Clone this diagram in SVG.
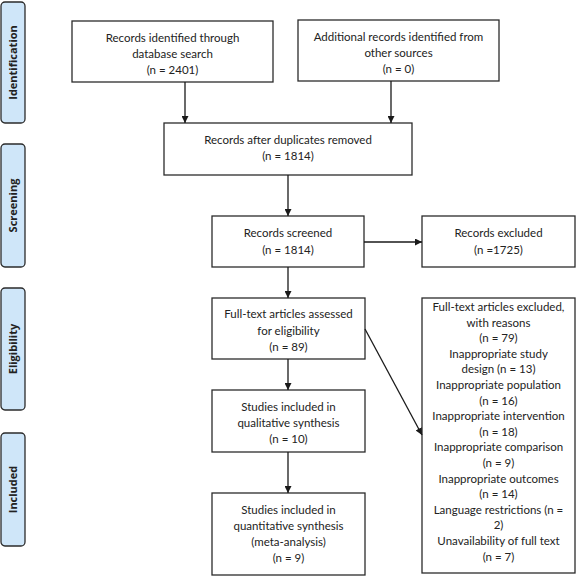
<svg xmlns="http://www.w3.org/2000/svg" width="576" height="576" viewBox="0 0 576 576">
<style>
  .box { fill: #ffffff; stroke: #2b2b2b; stroke-width: 1.3; }
  .lab { fill: #cfe6f9; stroke: #2b2b2b; stroke-width: 1.3; }
  .t { font-family: Lato, "Liberation Sans", sans-serif; font-size: 11.5px; fill: #222; text-anchor: middle; }
  .lt { font-family: "Open Sans", "Liberation Sans", sans-serif; font-size: 11px; font-weight: bold; fill: #222; text-anchor: middle; }
  .c { stroke: #1a1a1a; stroke-width: 1.3; fill: none; marker-end: url(#ah); }
</style>
<defs>
  <marker id="ah" viewBox="0 0 10 10" refX="10" refY="5" markerWidth="7" markerHeight="7" markerUnits="userSpaceOnUse" orient="auto">
    <path d="M0,0 L10,5 L0,10 z" fill="#1a1a1a"/>
  </marker>
</defs>
<rect width="576" height="576" fill="#ffffff"/>

<g id="lbl-identification">
  <rect class="lab" x="1" y="2" width="24" height="121" rx="4"/>
  <text class="lt" transform="translate(17,62.5) rotate(-90)">Identification</text>
</g>
<g id="lbl-screening">
  <rect class="lab" x="1" y="144" width="24" height="123" rx="4"/>
  <text class="lt" transform="translate(17,205.5) rotate(-90)">Screening</text>
</g>
<g id="lbl-eligibility">
  <rect class="lab" x="1" y="288" width="24" height="122" rx="4"/>
  <text class="lt" transform="translate(17,349) rotate(-90)">Eligibility</text>
</g>
<g id="lbl-included">
  <rect class="lab" x="1" y="433" width="24" height="113" rx="4"/>
  <text class="lt" transform="translate(17,489.5) rotate(-90)">Included</text>
</g>

<g id="n-db">
  <rect class="box" x="72" y="21" width="201" height="61"/>
  <text class="t" x="172.5" y="42">Records identified through</text>
  <text class="t" x="172.5" y="58">database search</text>
  <text class="t" x="172.5" y="74">(n = 2401)</text>
</g>
<g id="n-other">
  <rect class="box" x="298" y="20" width="201" height="61"/>
  <text class="t" x="398.5" y="41">Additional records identified from</text>
  <text class="t" x="398.5" y="57">other sources</text>
  <text class="t" x="398.5" y="73">(n = 0)</text>
</g>
<g id="n-dup">
  <rect class="box" x="164" y="123" width="248" height="52"/>
  <text class="t" x="288" y="144">Records after duplicates removed</text>
  <text class="t" x="288" y="160">(n = 1814)</text>
</g>
<g id="n-screened">
  <rect class="box" x="212" y="216" width="152" height="51"/>
  <text class="t" x="288" y="237">Records screened</text>
  <text class="t" x="288" y="254">(n = 1814)</text>
</g>
<g id="n-excluded">
  <rect class="box" x="422" y="216" width="153" height="51"/>
  <text class="t" x="498.5" y="237">Records excluded</text>
  <text class="t" x="498.5" y="254">(n =1725)</text>
</g>
<g id="n-fulltext">
  <rect class="box" x="212" y="298" width="153" height="61"/>
  <text class="t" x="288.5" y="318">Full-text articles assessed</text>
  <text class="t" x="288.5" y="335">for eligibility</text>
  <text class="t" x="288.5" y="351">(n = 89)</text>
</g>
<g id="n-reasons">
  <rect class="box" x="422" y="298" width="153" height="275"/>
  <text class="t" x="498.5" y="311">Full-text articles excluded,</text>
  <text class="t" x="498.5" y="326.6">with reasons</text>
  <text class="t" x="498.5" y="342.2">(n = 79)</text>
  <text class="t" x="498.5" y="357.8">Inappropriate study</text>
  <text class="t" x="498.5" y="373.4">design (n = 13)</text>
  <text class="t" x="498.5" y="389">Inappropriate population</text>
  <text class="t" x="498.5" y="404.6">(n = 16)</text>
  <text class="t" x="498.5" y="420.2">Inappropriate intervention</text>
  <text class="t" x="498.5" y="435.8">(n = 18)</text>
  <text class="t" x="498.5" y="451.4">Inappropriate comparison</text>
  <text class="t" x="498.5" y="467">(n = 9)</text>
  <text class="t" x="498.5" y="482.6">Inappropriate outcomes</text>
  <text class="t" x="498.5" y="498.2">(n = 14)</text>
  <text class="t" x="498.5" y="513.8">Language restrictions (n =</text>
  <text class="t" x="498.5" y="529.4">2)</text>
  <text class="t" x="498.5" y="545">Unavailability of full text</text>
  <text class="t" x="498.5" y="560.6">(n = 7)</text>
</g>
<g id="n-qual">
  <rect class="box" x="212" y="390" width="153" height="62"/>
  <text class="t" x="288.5" y="411">Studies included in</text>
  <text class="t" x="288.5" y="427">qualitative synthesis</text>
  <text class="t" x="288.5" y="443">(n = 10)</text>
</g>
<g id="n-quant">
  <rect class="box" x="212" y="493" width="153" height="82"/>
  <text class="t" x="288.5" y="514">Studies included in</text>
  <text class="t" x="288.5" y="530">quantitative synthesis</text>
  <text class="t" x="288.5" y="546">(meta-analysis)</text>
  <text class="t" x="288.5" y="562">(n = 9)</text>
</g>

<g id="connectors">
  <line class="c" x1="185" y1="82" x2="185" y2="123"/>
  <line class="c" x1="391" y1="81" x2="391" y2="123"/>
  <line class="c" x1="288" y1="175" x2="288" y2="216"/>
  <line class="c" x1="364" y1="242" x2="422" y2="242"/>
  <line class="c" x1="288" y1="267" x2="288" y2="298"/>
  <line class="c" x1="288" y1="359" x2="288" y2="390"/>
  <line class="c" x1="288" y1="452" x2="288" y2="493"/>
  <line class="c" x1="365" y1="329" x2="422" y2="435"/>
</g>
</svg>
